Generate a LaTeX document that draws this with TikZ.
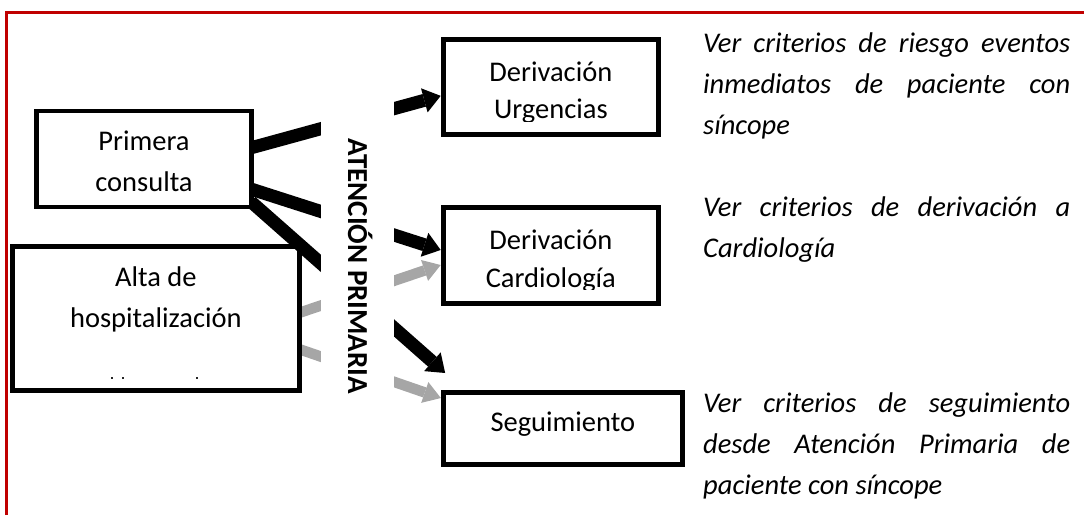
\documentclass[tikz,border=0pt]{standalone}
\usepackage{fontspec}
\setmainfont{Carlito}
\usetikzlibrary{arrows.meta}
\pgfdeclarelayer{grayl}
\pgfdeclarelayer{altal}
\pgfdeclarelayer{blackl}
\pgfsetlayers{grayl,altal,blackl,main}
\definecolor{redline}{RGB}{192,0,0}
\definecolor{arrowgray}{RGB}{166,166,166}
\tikzset{
  box/.style={draw=black, fill=white, line width=5pt, rectangle, inner sep=2pt, align=center,
    font=\fontsize{28.5}{41}\selectfont},
  btext/.style={inner sep=0pt, align=center},
  blk/.style={draw=black, line width=13pt, -{Triangle[length=17pt,width=25pt,line width=0pt]}, shorten <=-8pt},
  gry/.style={draw=arrowgray, line width=10.5pt, -{Triangle[length=17pt,width=22pt,line width=0pt]}, shorten <=-8pt},
  note/.style={anchor=north west, inner sep=0pt, text width=367pt, align=justify,
    font=\itshape\fontsize{28.5}{41}\selectfont},
  cover/.style={fill=white, inner sep=0pt, rotate=-90, font=\bfseries\fontsize{29}{35}\selectfont,
    minimum width=343pt, minimum height=73pt, text height=18.7pt, text depth=0pt},
  dot/.style={fill=black!85},
}
\begin{document}
\begin{tikzpicture}[x=1pt,y=-1pt]
\useasboundingbox (0,0) rectangle (1084,515);
% red frame
\draw[redline, line width=3.5pt] (6.7,515) -- (6.7,12.7) -- (1084,12.7);

% left boxes
\node[box, line width=4.6pt, minimum width=215.4pt, minimum height=96pt] (pc) at (144,159)
  {\rule{0pt}{30pt}Primera\\consulta\rule[-5.6pt]{0pt}{5.6pt}};
\begin{pgfonlayer}{altal}
\node[box, minimum width=286.7pt, minimum height=144pt] (ah) at (155.85,318.8)
  {\rule{0pt}{22pt}Alta de\\hospitalización\rule[-45.2pt]{0pt}{45.2pt}};
\fill[dot] (110.7,376.7) rectangle (112.7,378.7);
\fill[dot] (122.3,376.7) rectangle (124.3,378.7);
\fill[dot] (195.7,376.7) rectangle (197.7,378.7);
\end{pgfonlayer}

% right boxes
\node[box, minimum width=215.3pt, minimum height=95.3pt] (du) at (550.85,86.85) {};
\begin{scope}
  \clip (du.north west) rectangle ([yshift=16pt]du.south east);
  \node[btext, font=\fontsize{28.5}{37.5}\selectfont] (dut) at ([yshift=-5.7pt]du.center)
    {\rule{0pt}{25pt}Derivación\\Urgencias\rule[-10pt]{0pt}{10pt}};
\end{scope}
\node[box, minimum width=215.3pt, minimum height=96pt] (dc) at (550.85,255.8) {};
\begin{scope}
  \clip (dc.north west) rectangle ([yshift=17pt]dc.south east);
  \node[btext, font=\fontsize{28.5}{37.5}\selectfont] (dct) at ([yshift=-5.25pt]dc.center)
    {\rule{0pt}{25pt}Derivación\\Cardiología\rule[-10pt]{0pt}{10pt}};
\end{scope}
\node[box, minimum width=239pt, minimum height=71.7pt] (sg) at (562.85,428.35)
  {\rule{0pt}{25pt}Seguimiento\rule[-19.7pt]{0pt}{19.7pt}};

% vertical label with white cover
\node[cover] (ap) at (357.5,266.5) {ATENCIÓN PRIMARIA};

% arrows
\begin{pgfonlayer}{grayl}
\draw[gry] ([yshift=6.8pt]ah.east) -- ([yshift=-9.2pt]dc.west);
\draw[gry] ([yshift=-31.2pt]ah.east) -- ([yshift=-8pt]sg.north west);
\end{pgfonlayer}
\begin{pgfonlayer}{blackl}
\draw[blk] ([yshift=12pt]pc.east) -- ([yshift=-9pt]du.west);
\draw[blk] ([yshift=-31pt]pc.east) -- ([yshift=5.8pt]dc.west);
\draw[blk] ([xshift=3pt,yshift=2.3pt]pc.south east) -- ([xshift=4.3pt,yshift=17pt]sg.north west);
\end{pgfonlayer}

% notes
\node[note] (n1) at (703,27.5) {\tolerance=10000\hbadness=10000\noindent\rule{0pt}{25pt}Ver criterios de riesgo eventos\linebreak inmediatos de paciente con\linebreak síncope};
\node[note] (n2) at (703,191.5) {\tolerance=10000\hbadness=10000\noindent\rule{0pt}{25pt}Ver criterios de derivación a\linebreak Cardiología};
\node[note] (n3) at (703,387.5) {\tolerance=10000\hbadness=10000\noindent\rule{0pt}{25pt}Ver criterios de seguimiento\linebreak desde Atención Primaria de\linebreak paciente con síncope};
\end{tikzpicture}
\end{document}
